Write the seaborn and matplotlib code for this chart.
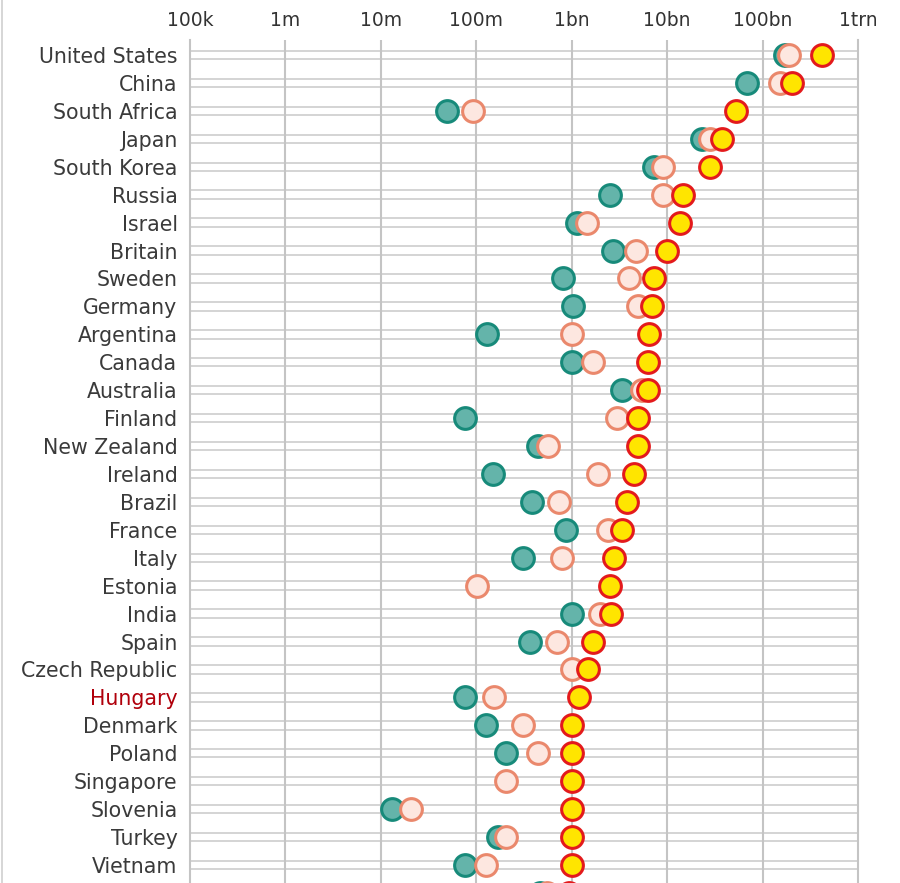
import matplotlib
matplotlib.use("Agg")
import matplotlib.pyplot as plt
import seaborn as sns
import numpy as np
import pandas as pd
from matplotlib.lines import Line2D

countries = ["United States", "China", "South Africa", "Japan", "South Korea",
             "Russia", "Israel", "Britain", "Sweden", "Germany", "Argentina",
             "Canada", "Australia", "Finland", "New Zealand", "Ireland", "Brazil",
             "France", "Italy", "Estonia", "India", "Spain", "Czech Republic",
             "Hungary", "Denmark", "Poland", "Singapore", "Slovenia", "Turkey",
             "Vietnam", ""]

# values in US$
teal = [173e9, 69e9, 49e6, 23.3e9, 7.3e9, 2.53e9, 1.14e9, 2.72e9, 0.81e9, 1.03e9,
        130e6, 1.01e9, 3.37e9, 76e6, 445e6, 150e6, 385e6, 873e6, 310e6, np.nan,
        1.0e9, 366e6, np.nan, 76e6, 127e6, 205e6, np.nan, 13.1e6, 169e6, 76e6, 467e6]
salmon = [190e9, 153e9, 92e6, 28.2e9, 9.1e9, 9.1e9, 1.45e9, 4.73e9, 4.0e9, 4.97e9,
          1.0e9, 1.68e9, 5.47e9, 2.99e9, 566e6, 1.89e9, 738e6, 2.41e9, 793e6, 102e6,
          1.99e9, 703e6, 1.0e9, 154e6, 310e6, 445e6, 205e6, 20.7e6, 205e6, 127e6, 552e6]
yellow = [422e9, 204e9, 52.8e9, 37.7e9, 28.2e9, 14.7e9, 13.7e9, 10.0e9, 7.3e9, 6.96e9,
          6.48e9, 6.32e9, 6.32e9, 4.97e9, 4.97e9, 4.51e9, 3.81e9, 3.37e9, 2.78e9, 2.53e9,
          2.59e9, 1.68e9, 1.49e9, 1.20e9, 1.0e9, 1.0e9, 1.0e9, 1.0e9, 1.0e9, 1.0e9, 0.93e9]

tick_vals = [1e5, 1e6, 1e7, 1e8, 1e9, 1e10, 1e11, 1e12]
tick_labels = ["100k", "1m", "10m", "100m", "1bn", "10bn", "100bn", "1trn"]

df = pd.DataFrame({"country": countries, "pos": np.arange(len(countries)),
                   "teal": teal, "salmon": salmon, "yellow": yellow})

sns.set_style("white")
plt.rcParams["font.family"] = ["DejaVu Sans"]

fig = plt.figure(figsize=(9, 8.83), dpi=100)
W, H = 900, 883
ax = fig.add_axes([190 / W, 0, (858 - 190) / W, (883 - 40) / H])

row_px = 27.93
top_y = (40 - 55) / row_px
bot_y = (883 - 55) / row_px

# rails
half = 4.2 / row_px
grid_c = "#d4d4d4"
for p in df["pos"]:
    ax.plot([1e5, 1e12], [p - half, p - half], color=grid_c, lw=1.4, zorder=1,
            solid_capstyle="round")
    ax.plot([1e5, 1e12], [p + half, p + half], color=grid_c, lw=1.4, zorder=1,
            solid_capstyle="round")

for v in tick_vals[1:-1]:
    ax.axvline(v, color="#c4c4c4", lw=1.5, zorder=1.5)

s = 245
sns.scatterplot(data=df, x="teal", y="pos", s=s, color="#64b4aa", edgecolor="#178a7a",
                linewidth=2.2, ax=ax, zorder=3, legend=False)
sns.scatterplot(data=df, x="salmon", y="pos", s=s, color="#fde7e0", edgecolor="#ea886c",
                linewidth=2.2, ax=ax, zorder=4, legend=False)
sns.scatterplot(data=df, x="yellow", y="pos", s=s, color="#ffe500", edgecolor="#e31a1c",
                linewidth=2.2, ax=ax, zorder=5, legend=False)

ax.set_xscale("log")
ax.set_xticks(tick_vals)
ax.set_xticklabels(tick_labels)
ax.xaxis.set_minor_locator(matplotlib.ticker.NullLocator())
ax.xaxis.tick_top()
ax.tick_params(axis="x", length=0, pad=7, labelsize=13.5, labelcolor="#333333")
ax.set_yticks(df["pos"])
ax.set_yticklabels(countries)
ax.tick_params(axis="y", length=0, pad=9, labelsize=14.8, labelcolor="#3a3a3a")
for lbl in ax.get_yticklabels():
    if lbl.get_text() == "Hungary":
        lbl.set_color("#b0000b")
ax.set_xlim(1e5, 1e12)
ax.set_ylim(bot_y, top_y)
ax.set_xlabel("")
ax.set_ylabel("")
for side in ["top", "bottom"]:
    ax.spines[side].set_visible(False)
for side in ["left", "right"]:
    ax.spines[side].set_visible(True)
    ax.spines[side].set_color("#c4c4c4")
    ax.spines[side].set_linewidth(1.5)
ax.grid(False)

fig.add_artist(Line2D([1.5 / W, 1.5 / W], [0, 1], color="#d0d0d0", lw=1.2))

fig.savefig("out.png", dpi=100)
